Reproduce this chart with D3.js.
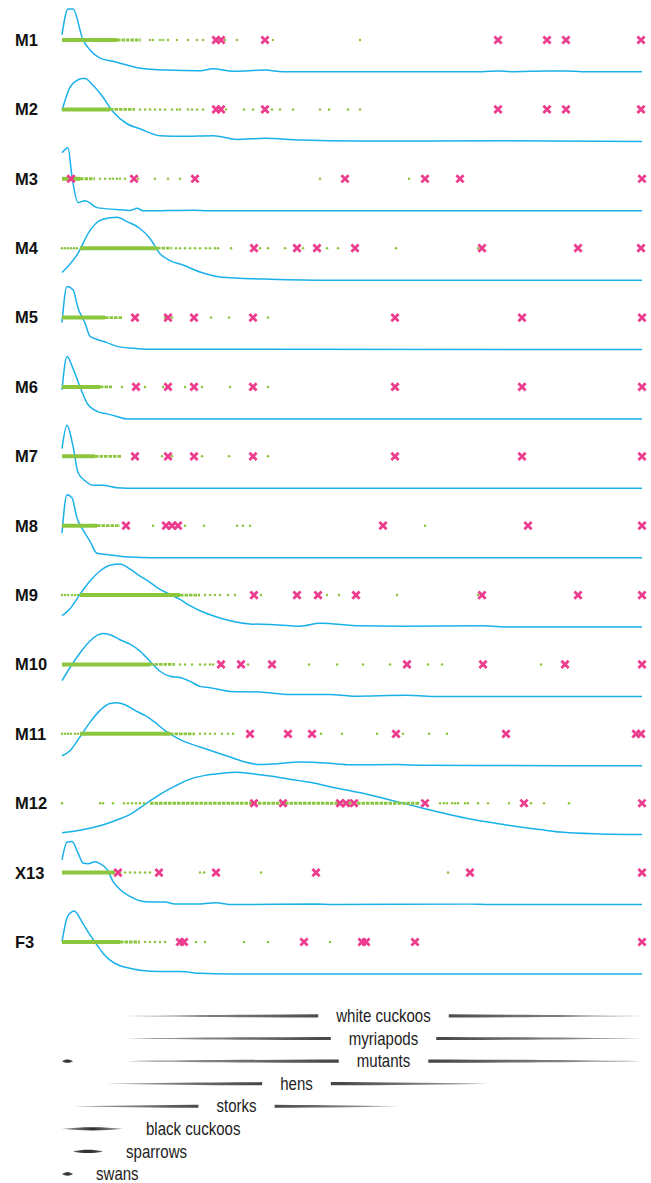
<!DOCTYPE html>
<html>
<head>
<meta charset="utf-8">
<script src="https://cdn.jsdelivr.net/npm/d3@7"></script>
<style>
  html, body { margin: 0; padding: 0; background: #fff; }
  svg { display: block; }
</style>
</head>
<body>
<svg id="chart" width="651" height="1183"></svg>
<script>
// ---- data -------------------------------------------------------------
const rowNames = ["M1","M2","M3","M4","M5","M6","M7","M8","M9","M10","M11","M12","X13","F3"];

// dense part of each sample: [start, end of solid core, end of thinner trail]
const coreRanges = [
  [0, 55, 79], [0, 48, 73], [0, 18, 33], [18, 95, 110], [0, 43, 60], [0, 38, 50], [0, 33, 60],
  [0, 35, 58], [18, 118, 138], [0, 88, 113], [18, 108, 133], [88, 88, 358], [0, 53, 53], [0, 58, 78]
];

// individual sparse observations
const dotValues = [
  [88,91,98,101,106,115,126,135,141,163,175,211,298],
  [78,83,88,93,98,103,110,115,118,126,130,135,141,164,182,191,210,218,231,258,267,286,298],
  [38,43,48,51,55,58,63,76,93,106,118,258,347],
  [0,3,6,9,12,15,114,118,123,128,133,138,144,148,153,156,169,198,206,223,241,265,276,334,416],
  [103,110,149,167,206],
  [60,83,101,105,123,140,168,206],
  [100,110,140,167,206],
  [91,123,142,175,181,188,363],
  [0,3,6,10,13,16,143,148,153,158,166,173,199,265,277,335,416],
  [118,123,130,138,143,148,151,186,247,275,301,328,366,380,479],
  [0,3,6,9,13,16,138,143,148,153,160,166,171,259,280,315,341,367,385],
  [0,38,41,51,62,66,70,74,78,82,378,382,385,390,393,396,403,406,416,426,447,469,482,507,579],
  [58,63,68,73,78,83,88,138,142,199,386],
  [83,88,93,98,103,134,143,182,206,268]
];

// flagged observations
const crossValues = [
  [154,159,203,436,485,504,579],
  [154,159,203,436,485,504,579],
  [9,72,133,283,363,398,580],
  [192,235,255,293,420,516,579],
  [73,106,132,191,333,460,580],
  [74,106,132,191,333,460,580],
  [73,106,132,191,333,460,580],
  [64,104,110,116,321,466,580],
  [192,235,256,294,420,516,580],
  [159,179,210,345,421,503,580],
  [188,226,250,334,444,574,579],
  [192,221,278,284,292,363,462,580],
  [56,97,154,254,408,580],
  [118,122,242,300,304,353,580]
];

// density estimate per sample: [value, density as % of the row maximum]
const densityCurves = [
  [[0,59],[6,100],[11,100],[21,51],[28,35],[38,22],[51,17],[65,11],[78,6],[105,3],[138,2],[151,5],[171,1],[203,3],[221,0.5],[420,0.5],[436,1.5],[450,0.5],[485,1.5],[504,1.5],[520,0.5],[580,0.5]],
  [[0,49],[8,86],[15,97],[20,100],[23,100],[31,89],[41,70],[51,47],[65,28],[78,20],[98,9],[121,8],[151,9],[175,3],[203,5],[238,2],[298,0.5],[436,1],[580,0]],
  [[0,92],[6,100],[10,54],[16,13],[23,16],[35,5],[55,2],[68,0.5],[75,4],[81,0],[133,1],[145,0],[580,0]],
  [[0,12],[15,40],[28,79],[38,95],[48,99],[55,100],[65,93],[78,82],[88,66],[98,42],[108,31],[121,24],[138,13],[158,5],[178,3],[208,1.5],[268,0],[580,0]],
  [[0,43],[5,100],[11,95],[16,66],[23,42],[28,21],[35,16],[45,11],[55,5],[71,2],[88,0.5],[580,0]],
  [[0,46],[5,99],[11,80],[18,51],[25,25],[35,12],[45,8],[55,4],[65,0],[580,0]],
  [[0,63],[5,100],[11,67],[16,25],[23,12],[31,5],[41,5],[55,1],[75,0],[580,0]],
  [[0,39],[5,100],[10,95],[15,63],[21,44],[28,26],[35,7],[45,5],[55,3],[68,1],[90,0],[580,0]],
  [[0,18],[8,29],[18,52],[28,73],[38,89],[48,98],[58,100],[68,92],[78,81],[88,71],[98,60],[108,52],[118,44],[128,34],[138,26],[151,18],[168,10],[188,5],[208,4],[238,1.5],[258,6],[298,2],[338,1.5],[420,2],[450,0],[580,0]],
  [[0,25],[8,46],[18,69],[28,88],[35,97],[41,100],[48,98],[58,90],[68,83],[78,72],[88,56],[98,40],[108,32],[118,30],[128,24],[138,16],[148,14],[168,8],[198,7],[228,3],[268,3],[290,0.5],[345,2],[370,0],[580,0]],
  [[0,16],[8,24],[18,46],[28,69],[38,88],[48,99],[55,100],[63,97],[73,88],[83,80],[93,69],[103,56],[113,46],[123,38],[138,30],[153,22],[168,14],[183,6],[198,2],[213,3],[238,6],[268,4],[288,1.6],[334,2],[360,1],[438,0.5],[580,0]],
  [[0,4],[18,8],[38,15],[53,23],[68,33],[83,49],[98,65],[113,78],[128,89],[143,95],[158,98],[175,100],[188,98],[208,94],[228,89],[248,84],[268,77],[308,64],[358,44],[411,25],[438,18],[458,13],[478,9],[498,5],[538,2],[580,1]],
  [[0,71],[5,99],[10,100],[16,82],[21,66],[26,65],[33,68],[38,65],[45,56],[51,37],[58,24],[68,13],[78,6],[88,4],[103,4],[113,1],[138,1],[154,3],[170,0],[254,1],[270,0],[408,1],[430,0],[580,0]],
  [[0,51],[5,89],[10,99],[12,100],[21,80],[28,62],[35,46],[41,33],[48,22],[58,13],[68,9],[78,6],[98,4],[118,4],[138,1],[170,0],[580,0]]
];

// group ranges shown below the strips
const legendNames = ["white cuckoos","myriapods","mutants","hens","storks","black cuckoos","sparrows","swans"];
const legendRanges = [
  [[63, 580]],
  [[63, 580]],
  [[0, 11], [63, 580]],
  [[43, 426]],
  [[11, 338]],
  [[0, 61]],
  [[11, 41]],
  [[0, 11]]
];

// ---- drawing ----------------------------------------------------------
const svg = d3.select("#chart");

const x = d3.scaleLinear().domain([0, 580]).range([62, 642]);
const rowY = d3.scalePoint().domain(rowNames).range([40, 942]);
const densY = d3.scaleLinear().domain([0, 100]).range([32, -31]);
const legendY = d3.scalePoint().domain(legendNames).range([1016, 1174]);

const GREEN = "#8cc63f";
const PINK = "#ec3d8f";
const BLUE = "#1ab0ea";

const rows = svg.selectAll("g.row")
  .data(rowNames.map((name, i) => ({
    name,
    core: coreRanges[i],
    dots: dotValues[i],
    crosses: crossValues[i],
    dens: densityCurves[i]
  })))
  .join("g")
  .attr("class", "row")
  .attr("transform", d => `translate(0,${rowY(d.name)})`);

rows.append("text")
  .attr("x", 15)
  .attr("y", 0)
  .attr("dy", "0.36em")
  .attr("font-family", "'Liberation Sans', Arial, sans-serif")
  .attr("font-weight", "bold")
  .attr("font-size", 16.5)
  .attr("fill", "#111")
  .text(d => d.name);

const densLine = d3.line()
  .x(p => x(p[0]))
  .y(p => densY(p[1]))
  .curve(d3.curveMonotoneX);

rows.append("path")
  .attr("d", d => densLine(d.dens))
  .attr("fill", "none")
  .attr("stroke", BLUE)
  .attr("stroke-width", 1.5);

// thinner dotted trail of the dense part
rows.append("line")
  .attr("x1", d => x(d.core[1]))
  .attr("x2", d => x(d.core[2]))
  .attr("y1", 0).attr("y2", 0)
  .attr("stroke", GREEN)
  .attr("stroke-width", 2.8)
  .attr("stroke-dasharray", "3.5,1");

// solid core of the dense part
rows.append("line")
  .attr("x1", d => x(d.core[0]))
  .attr("x2", d => x(d.core[1]))
  .attr("y1", 0).attr("y2", 0)
  .attr("stroke", GREEN)
  .attr("stroke-width", 4);

rows.selectAll("circle.dot")
  .data(d => d.dots)
  .join("circle")
  .attr("class", "dot")
  .attr("cx", v => x(v))
  .attr("cy", 0)
  .attr("r", 1.25)
  .attr("fill", GREEN);

rows.selectAll("path.cross")
  .data(d => d.crosses)
  .join("path")
  .attr("class", "cross")
  .attr("transform", v => `translate(${x(v)},0)`)
  .attr("d", "M-3.6,-3.6L3.6,3.6M-3.6,3.6L3.6,-3.6")
  .attr("stroke", PINK)
  .attr("stroke-width", 2.8)
  .attr("fill", "none");

// ---- group range legend ----------------------------------------------
const defs = svg.append("defs");
const LABEL_FONT = "'Liberation Sans', Arial, sans-serif";
const NARROW = 0.86; // horizontal squeeze for a condensed look

legendNames.forEach((name, i) => {
  const g = svg.append("g").attr("transform", `translate(0,${legendY(name)})`);
  const ranges = legendRanges[i];

  ranges.forEach((r, j) => {
    const x0 = x(r[0]), x1 = x(r[1]);
    const L = x1 - x0;
    const id = `grad-${i}-${j}`;
    // short ranges stay dark all along, long ones fade out at the ends
    const endColor = L < 40 ? "#555" : "#a8a8a8";
    const grad = defs.append("linearGradient")
      .attr("id", id)
      .attr("gradientUnits", "userSpaceOnUse")
      .attr("x1", x0).attr("x2", x1)
      .attr("y1", 0).attr("y2", 0);
    grad.append("stop").attr("offset", "0%").attr("stop-color", endColor);
    grad.append("stop").attr("offset", "50%").attr("stop-color", "#2e2e2e");
    grad.append("stop").attr("offset", "100%").attr("stop-color", endColor);
    const h = 2.2;
    const c = L * 0.3;
    g.append("path")
      .attr("d", `M${x0},0C${x0 + c},${-h} ${x1 - c},${-h} ${x1},0C${x1 - c},${h} ${x0 + c},${h} ${x0},0Z`)
      .attr("fill", `url(#${id})`);
  });

  // label goes on the widest range, or beside it when it does not fit
  const main = ranges.reduce((a, b) => (b[1] - b[0] > a[1] - a[0] ? b : a));
  const mx0 = x(main[0]), mx1 = x(main[1]);
  const lg = g.append("g");
  const label = lg.append("text")
    .attr("font-family", LABEL_FONT)
    .attr("font-size", 17.5)
    .attr("fill", "#222")
    .attr("dy", "0.35em")
    .text(name);
  const w = label.node().getComputedTextLength() * NARROW;
  const pad = 18;
  if (w + 2 * pad + 40 < mx1 - mx0) {
    const cx = (mx0 + mx1) / 2;
    g.insert("rect", "g")
      .attr("x", cx - w / 2 - pad)
      .attr("y", -8)
      .attr("width", w + 2 * pad)
      .attr("height", 16)
      .attr("fill", "#fff");
    lg.attr("transform", `translate(${cx},0) scale(${NARROW},1)`);
    label.attr("text-anchor", "middle");
  } else {
    lg.attr("transform", `translate(${mx1 + 23},0) scale(${NARROW},1)`);
    label.attr("text-anchor", "start");
  }
});
</script>
</body>
</html>
